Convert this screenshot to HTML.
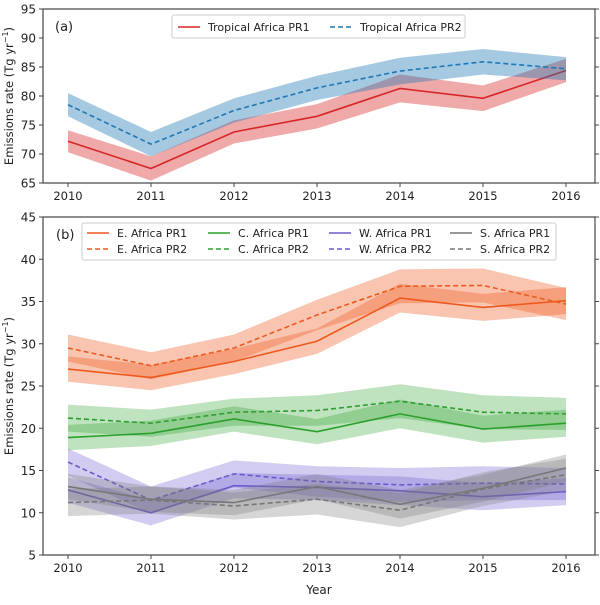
<!DOCTYPE html>
<html><head><meta charset="utf-8"><style>
body{margin:0;background:#fff;width:600px;height:600px;overflow:hidden}
svg{font-family:"DejaVu Sans","Liberation Sans",sans-serif}
</style></head><body>
<svg id="c" width="600" height="600"></svg>
<script>
const years=[2010,2011,2012,2013,2014,2015,2016];
const tpr1=[72.2,67.5,73.8,76.5,81.3,79.6,84.4];
const tpr1Err=[1.9,2.1,2.0,2.1,2.4,2.2,2.0];
const tpr2=[78.5,71.7,77.5,81.4,84.3,85.9,84.7];
const tpr2Err=[2.0,2.1,2.1,2.1,2.3,2.2,2.0];
const ePR1=[27,26,27.9,30.3,35.4,34.3,35.1];
const ePR2=[29.5,27.4,29.5,33.4,36.8,36.9,34.7];
const cPR1=[18.9,19.4,21.1,19.6,21.7,19.9,20.6];
const cPR2=[21.2,20.6,21.9,22.1,23.2,21.9,21.7];
const wPR1=[12.7,10,13.2,13,12.6,11.9,12.5];
const wPR2=[16,11.5,14.6,13.7,13.3,13.5,13.4];
const sPR1=[13.1,11.6,11.2,13.1,11,12.9,15.3];
const sPR2=[11.2,11.5,10.8,11.6,10.3,12.8,14.5];
const errPR1=[1.5,1.5,1.5,1.5,1.7,1.6,1.6];
const errPR2=[1.6,1.6,1.6,1.8,2.0,2.0,1.9];
const ticksA=[65,70,75,80,85,90,95];
const ticksB=[5,10,15,20,25,30,35,40,45];

const svg=document.getElementById('c');
const NS='http://www.w3.org/2000/svg';
function mk(tag,attrs,parent){const e=document.createElementNS(NS,tag);for(const k in attrs)e.setAttribute(k,attrs[k]);(parent||svg).appendChild(e);return e;}
const x=yr=>68+(yr-2010)*83;
function panel(name,top,bot,ymin,ymax,ticks){
  const y=v=>bot-(v-ymin)/(ymax-ymin)*(bot-top);
  const g=mk('g',{});
  
  
  return {g,y,top,bot,ticks};
}
function axes(p,label){
  const g=p.g;
  mk('rect',{x:43,y:p.top,width:552,height:p.bot-p.top,fill:'none',stroke:'#444','stroke-width':1.2},g);
  p.ticks.forEach(t=>{const yy=p.y(t);
    mk('line',{x1:39,x2:43,y1:yy,y2:yy,stroke:'#444'},g);
    mk('line',{x1:595,x2:599,y1:yy,y2:yy,stroke:'#444'},g);
    const tx=mk('text',{x:36,y:yy+4.5,'text-anchor':'end','font-size':12,fill:'#222'},g);tx.textContent=t;
    
  });
  years.forEach(yr=>{mk('line',{x1:x(yr),x2:x(yr),y1:p.bot,y2:p.bot+4,stroke:'#444'},g);
    const tx=mk('text',{x:x(yr),y:p.bot+17,'text-anchor':'middle','font-size':11.5,fill:'#222'},g);tx.textContent=yr;
    
  });
  const yl=mk('text',{transform:`translate(13,${(p.top+p.bot)/2}) rotate(-90)`,'text-anchor':'middle','font-size':11.5,fill:'#222'},g);
  yl.innerHTML='Emissions rate  (Tg yr<tspan dy="-5" font-size="8">−1</tspan><tspan dy="5">)</tspan>';
  
  const pl=mk('text',{x:label=='(a)'?55:56,y:p.top+22,'font-size':13,fill:'#222'},g);pl.textContent=label;
  
}
function series(p,vals,err,color,alpha,dash,name){
  const up=years.map((yr,i)=>x(yr)+','+p.y(vals[i]+err[i]));
  const lo=years.map((yr,i)=>x(yr)+','+p.y(vals[i]-err[i])).reverse();
  const b=mk('polygon',{points:up.concat(lo).join(' '),fill:color,'fill-opacity':alpha,stroke:'none'},p.g);
  
  const l=mk('polyline',{points:years.map((yr,i)=>x(yr)+','+p.y(vals[i])).join(' '),fill:'none',stroke:color,'stroke-width':1.6,'stroke-dasharray':dash?'5,3':'none'},p.g);
  
}
function legItem(g,lx,ly,color,dash,text){
  mk('line',{x1:lx,x2:lx+22,y1:ly,y2:ly,stroke:color,'stroke-width':1.6,'stroke-dasharray':dash?'5,3':'none'},g);
  const t=mk('text',{x:lx+30,y:ly+4,'font-size':11,fill:'#222'},g);t.textContent=text;
  
}
// panel a
const A=panel('panel-a',9,183,65,95,ticksA);
series(A,tpr1,tpr1Err,'#d62728',0.4,false,'tropical-pr1');
series(A,tpr2,tpr2Err,'#1f77b4',0.4,true,'tropical-pr2');
axes(A,'(a)');
const la=mk('g',{});
mk('rect',{x:172,y:15,width:293,height:23,fill:'#fff','fill-opacity':0.8,stroke:'#ccc',rx:2},la);
legItem(la,178,27,'#d62728',false,'Tropical Africa PR1');
legItem(la,330,27,'#1f77b4',true,'Tropical Africa PR2');
// panel b
const B=panel('panel-b',217,555,5,45,ticksB);
const C={e:'#ee5a1e',c:'#2ca02c',w:'#6a5acd',s:'#777777'};
series(B,ePR1,errPR1,C.e,0.35,false,'e-africa-pr1');
series(B,ePR2,errPR2,C.e,0.35,true,'e-africa-pr2');
series(B,cPR1,errPR1,C.c,0.3,false,'c-africa-pr1');
series(B,cPR2,errPR2,C.c,0.3,true,'c-africa-pr2');
series(B,wPR1,errPR1,C.w,0.3,false,'w-africa-pr1');
series(B,wPR2,errPR2,C.w,0.3,true,'w-africa-pr2');
series(B,sPR1,errPR1,C.s,0.3,false,'s-africa-pr1');
series(B,sPR2,errPR2,C.s,0.3,true,'s-africa-pr2');
axes(B,'(b)');
const lb=mk('g',{});
mk('rect',{x:82,y:223,width:474,height:37,fill:'#fff','fill-opacity':0.8,stroke:'#ccc',rx:2},lb);
[['e','E.'],['c','C.'],['w','W.'],['s','S.']].forEach((k,i)=>{
  const lx=87+i*121;
  legItem(lb,lx,233,C[k[0]],false,k[1]+' Africa PR1');
  legItem(lb,lx,249,C[k[0]],true,k[1]+' Africa PR2');
});
const xt=mk('text',{x:319,y:594,'text-anchor':'middle','font-size':12,fill:'#222'});xt.textContent='Year';


</script>
</body></html>
